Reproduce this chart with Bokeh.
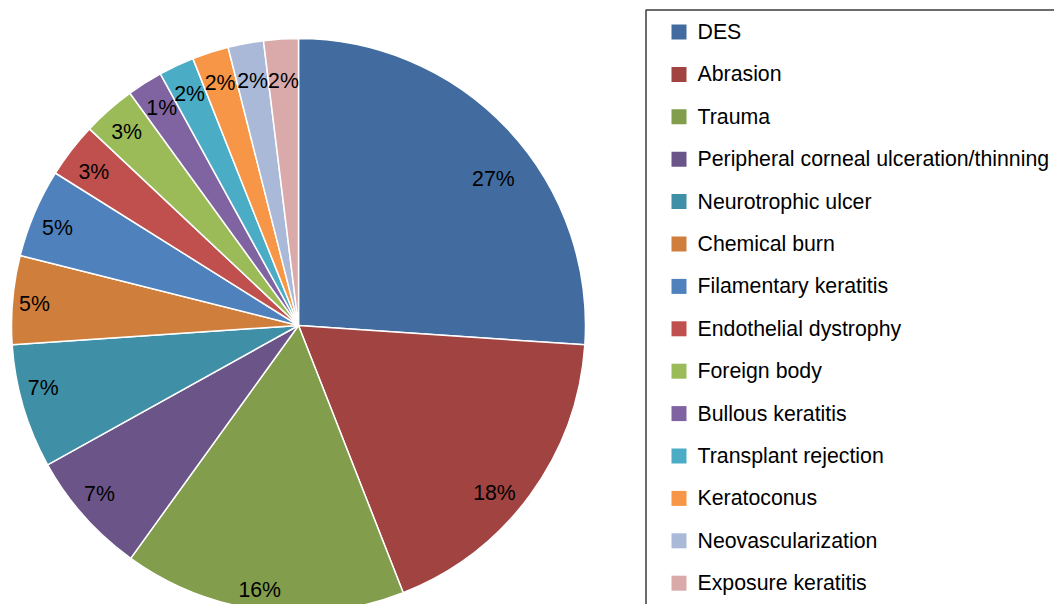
import math
from bokeh.plotting import figure
from bokeh.models import Range1d, ColumnDataSource
from bokeh.core.properties import value
from bokeh.embed import file_html
from bokeh.resources import INLINE

# ---------------- data ----------------
categories = [
    "DES", "Abrasion", "Trauma", "Peripheral corneal ulceration/thinning",
    "Neurotrophic ulcer", "Chemical burn", "Filamentary keratitis",
    "Endothelial dystrophy", "Foreign body", "Bullous keratitis",
    "Transplant rejection", "Keratoconus", "Neovascularization",
    "Exposure keratitis",
]
shares = [26.1, 18.0, 15.9, 7.0, 7.0, 5.0, 5.0, 3.1, 3.0, 2.0, 2.0, 2.05, 2.0, 1.95]
labels = ["27%", "18%", "16%", "7%", "7%", "5%", "5%", "3%", "3%", "1%",
          "2%", "2%", "2%", "2%"]
colors = ["#426C9F", "#A14341", "#829D4B", "#6B5488", "#3F90A6", "#CF7E3B",
          "#4F81BD", "#C0504D", "#9BBB59", "#8064A2", "#4BACC6", "#F79646",
          "#AAB9D8", "#D9AAA9"]

# ---------------- layout ----------------
W, H = 1054, 604
CX, CY, R = 298, 325, 287          # pie centre / radius in screenshot pixels
# label placement ("best fit"): angular shift from slice middle and fraction of radius
label_shift = [-6.1, -4.35, -1.15, -1.35, -2.6, 0.45, 1.1, 0.75, 0.25, -0.2, 0, 0, 0, 0]
label_rf = [0.850, 0.899, 0.932, 0.909, 0.916, 0.923, 0.906, 0.892, 0.902,
            0.895, 0.892, 0.889, 0.868, 0.854]
FONT = value("Liberation Sans")
FS = "21.3px"

total = sum(shares)
starts, ends, lx, ly = [], [], [], []
cum = 0.0
for i, s in enumerate(shares):
    a0 = 90 - cum / total * 360
    cum += s
    a1 = 90 - cum / total * 360
    starts.append(math.radians(a0))
    ends.append(math.radians(a1))
    mid = math.radians((a0 + a1) / 2 + label_shift[i])
    lr = label_rf[i] * R
    lx.append(CX + lr * math.cos(mid))
    ly.append(-CY + lr * math.sin(mid))

src = ColumnDataSource(dict(cat=categories, start=starts, end=ends, color=colors,
                            lx=lx, ly=ly, label=labels))

p = figure(width=W, height=H, output_backend="svg", toolbar_location=None,
           x_range=Range1d(0, W), y_range=Range1d(-H, 0),
           min_border=0, outline_line_color=None, background_fill_color="white")
p.axis.visible = False
p.grid.visible = False

p.wedge(x=CX, y=-CY, radius=R, start_angle="start", end_angle="end",
        direction="clock", fill_color="color", line_color="white",
        line_width=1.5, source=src)

p.text(x="lx", y="ly", text="label", source=src, text_align="center",
       text_baseline="middle", text_font=FONT, text_font_size=FS,
       text_color="black")

# ---------------- legend ----------------
p.quad(left=[645.5], right=[1200], top=[-9.5], bottom=[-800],
       fill_color=None, line_color="#3c3c3c", line_width=1.5)

pitch = 42.4
ley = [-(31.5 + i * pitch) for i in range(len(categories))]
leg = ColumnDataSource(dict(cat=categories, color=colors, y=ley,
                            gx=[678.5] * len(categories), tx=[697] * len(categories)))
p.rect(x="gx", y="y", width=15, height=15, fill_color="color", line_color=None,
       source=leg)
p.text(x="tx", y="y", text="cat", source=leg, text_align="left",
       text_baseline="middle", text_font=FONT, text_font_size=FS,
       text_color="black")

open("out.html", "w").write(file_html(p, INLINE))
